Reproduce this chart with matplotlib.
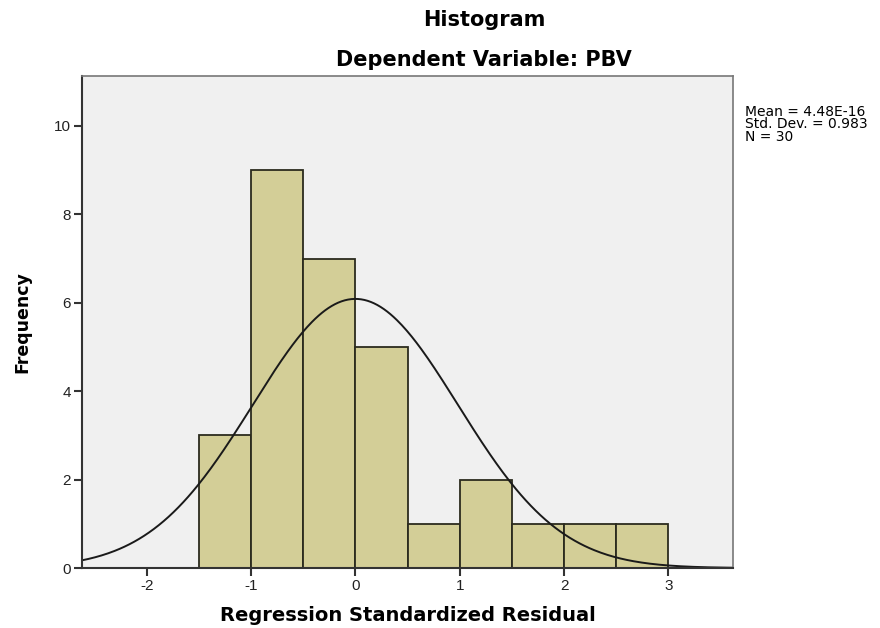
import numpy as np
import matplotlib.pyplot as plt

# histogram of regression standardized residuals
bin_edges = [-1.5, -1.0, -0.5, 0.0, 0.5, 1.0, 1.5, 2.0, 2.5, 3.0]
counts = [3, 9, 7, 5, 1, 2, 1, 1, 1]
mean = 4.48e-16
sd = 0.983
n = 30

plt.rcParams['font.family'] = ['Liberation Sans', 'DejaVu Sans']
plt.rcParams['axes.unicode_minus'] = False

fig = plt.figure(figsize=(8.8, 6.28), dpi=100)
ax = fig.add_axes([0.0932, 0.0955, 0.7398, 0.7835])
ax.set_facecolor('#f0f0f0')

widths = np.diff(bin_edges)
ax.bar(bin_edges[:-1], counts, width=widths, align='edge',
       color='#d3ce97', edgecolor='#2b2b1e', linewidth=1.3)

# normal curve scaled to counts
xs = np.linspace(-2.62, 3.62, 400)
bw = widths[0]
ys = n * bw / (sd * np.sqrt(2 * np.pi)) * np.exp(-0.5 * ((xs - mean) / sd) ** 2)
ax.plot(xs, ys, color='#1a1a1a', linewidth=1.4)

ax.set_xlim(-2.62, 3.62)
ax.set_ylim(0, 11.13)
ax.set_xticks([-2, -1, 0, 1, 2, 3])
ax.set_yticks([0, 2, 4, 6, 8, 10])
ax.tick_params(direction='out', length=6, width=1.5, color='#333333',
               labelsize=11, labelcolor='#222222', pad=2)
for side in ['left', 'bottom']:
    ax.spines[side].set_color('#333333')
    ax.spines[side].set_linewidth(1.5)
for side in ['top', 'right']:
    ax.spines[side].set_color('#777777')
    ax.spines[side].set_linewidth(1.2)

ax.set_xlabel('Regression Standardized Residual', fontsize=14,
              fontweight='bold', family='DejaVu Sans', labelpad=9)
ax.set_ylabel('Frequency', fontsize=12.5, fontweight='bold',
              family='DejaVu Sans', labelpad=16)

fig.text(0.55, 0.968, 'Histogram', ha='center', va='center',
         fontsize=15, fontweight='bold', family='DejaVu Sans')
fig.text(0.55, 0.904, 'Dependent Variable: PBV', ha='center', va='center',
         fontsize=15, fontweight='bold', family='DejaVu Sans')

fig.text(0.847, 0.833, 'Mean = 4.48E-16\nStd. Dev. = 0.983\nN = 30',
         ha='left', va='top', fontsize=10, family='DejaVu Sans',
         linespacing=0.85)

fig.savefig('out.png', dpi=100)
